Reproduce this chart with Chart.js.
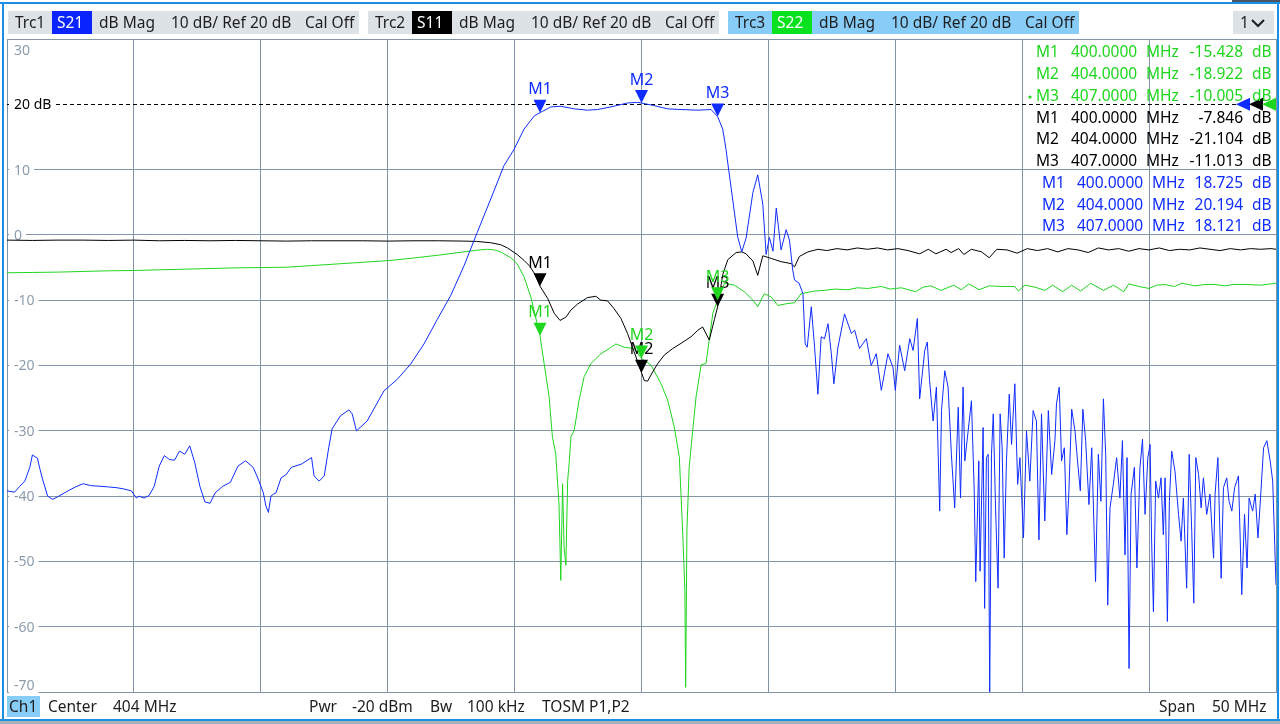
<!DOCTYPE html>
<html lang="en">
<head>
<meta charset="UTF-8" />
<title>Ch1 S21 / S11 / S22</title>
<script src="https://cdn.jsdelivr.net/npm/chart.js"></script>
<style>
    body {
        margin: 0;
        width: 1280px;
        height: 724px;
        overflow: hidden;
        background: #fff;
        font-family: 'Noto Sans', sans-serif;
        position: relative;
    }
    #plot { position: absolute; left: 0; top: 0; }
    .line { position: absolute; background: #1a8fe6; }
    .box { position: absolute; top: 11px; height: 23px; background: #dce2e6; }
    .t {
        position: absolute;
        top: 11px;
        line-height: 23px;
        font-size: 15.5px;
        color: #1e1e1e;
        white-space: nowrap;
    }
    .w { color: #fff; }
    .foot { top: 696px; line-height: 21px; }
</style>
</head>
<body>
    <canvas id="plot" width="1280" height="724"></canvas>

    <!-- frame -->
    <div class="line" style="left:0;top:2px;width:1280px;height:2px"></div>
    <div class="line" style="left:2px;top:2px;width:2px;height:719px"></div>
    <div class="line" style="left:1277px;top:2px;width:2px;height:719px"></div>
    <div class="line" style="left:0;top:719px;width:1280px;height:2px"></div>
    <div style="position:absolute;left:0;top:721px;width:1280px;height:3px;background:#a9b1b8"></div>
    <div style="position:absolute;left:1232px;top:0;width:48px;height:2px;background:#4a555f"></div>

    <!-- trace header -->
    <div class="box" style="left:8px;width:351px"></div>
    <div class="box" style="left:52px;width:40px;background:#0a24ff"></div>
    <span class="t" style="left:15px">Trc1</span>
    <span class="t w" style="left:57px">S21</span>
    <span class="t" style="left:99px">dB Mag</span>
    <span class="t" style="left:171px">10 dB/ Ref 20 dB</span>
    <span class="t" style="left:305px">Cal Off</span>

    <div class="box" style="left:368px;width:351px"></div>
    <div class="box" style="left:412px;width:40px;background:#000"></div>
    <span class="t" style="left:375px">Trc2</span>
    <span class="t w" style="left:417px">S11</span>
    <span class="t" style="left:459px">dB Mag</span>
    <span class="t" style="left:531px">10 dB/ Ref 20 dB</span>
    <span class="t" style="left:665px">Cal Off</span>

    <div class="box" style="left:728px;width:351px;background:#88ccf8"></div>
    <div class="box" style="left:772px;width:40px;background:#08e21e"></div>
    <span class="t" style="left:735px">Trc3</span>
    <span class="t w" style="left:777px">S22</span>
    <span class="t" style="left:819px">dB Mag</span>
    <span class="t" style="left:891px">10 dB/ Ref 20 dB</span>
    <span class="t" style="left:1025px">Cal Off</span>

    <div class="box" style="left:1233px;width:41px"></div>
    <span class="t" style="left:1240px">1</span>
    <svg style="position:absolute;left:1250px;top:17px" width="16" height="12">
        <polyline points="2,3 8,9 14,3" fill="none" stroke="#1e1e1e" stroke-width="2" />
    </svg>

    <!-- channel footer -->
    <div style="position:absolute;left:7px;top:696px;width:33px;height:21px;background:#88ccf8"></div>
    <span class="t foot" style="left:9px">Ch1</span>
    <span class="t foot" style="left:48px">Center</span>
    <span class="t foot" style="left:113px">404 MHz</span>
    <span class="t foot" style="left:309px">Pwr</span>
    <span class="t foot" style="left:352px">-20 dBm</span>
    <span class="t foot" style="left:430px">Bw</span>
    <span class="t foot" style="left:467px">100 kHz</span>
    <span class="t foot" style="left:542px">TOSM P1,P2</span>
    <span class="t foot" style="left:1159px">Span</span>
    <span class="t foot" style="left:1212px">50 MHz</span>

<script>
    // sweep: center 404 MHz, span 50 MHz, 10 dB/div, ref 20 dB
    const xGrid = [379, 384, 389, 394, 399, 404, 409, 414, 419, 424, 429];
    const refLevel = 20;

    const markerNames = ['M1', 'M2', 'M3'];
    const markerFreq = [400, 404, 407];
    const s21Marker = [18.725, 20.194, 18.121];
    const s11Marker = [-7.846, -21.104, -11.013];
    const s22Marker = [-15.428, -18.922, -10.005];

    // Trc1 S21 (blue)
    const s21Freq = [379.0, 379.3, 379.5, 379.7, 379.9, 380.0, 380.2, 380.3, 380.4, 380.6, 380.8, 381.0, 381.4, 381.7,
        382.0, 382.3, 382.7, 383.0, 383.3, 383.6, 383.9, 384.1, 384.2, 384.4, 384.6, 384.8, 385.0, 385.2, 385.4,
        385.6, 385.8, 386.0, 386.2, 386.4, 386.6, 386.8, 387.0, 387.2, 387.5, 387.8, 388.1, 388.4, 388.7, 388.9,
        389.1, 389.2, 389.3, 389.4, 389.5, 389.6, 389.8, 390.0, 390.2, 390.6, 391.0, 391.1, 391.3, 391.5, 391.68,
        391.81, 392.14, 392.47, 392.6, 392.77, 393.19, 393.85, 394.38, 394.9, 395.43, 395.96, 396.48, 397.01,
        397.53, 398.06, 398.58, 398.98, 399.37, 399.77, 400.0, 400.43, 400.82, 401.35, 401.87, 402.27, 402.79,
        403.45, 403.85, 404.0, 404.5, 405.03, 405.56, 406.22, 406.74, 407.0, 407.2, 407.33, 407.4, 407.6, 407.79,
        407.95, 408.12, 408.39, 408.58, 408.78, 408.91, 409.04, 409.18, 409.31, 409.5, 409.7, 409.83, 409.96,
        410.03, 410.21, 410.36, 410.45, 410.53, 410.69, 410.82, 410.95, 411.08, 411.21, 411.35, 411.48, 411.58,
        411.74, 412.0, 412.27, 412.4, 412.59, 412.86, 413.05, 413.25, 413.45, 413.71, 413.91, 414.0, 414.17,
        414.37, 414.57, 414.7, 414.87, 414.96, 415.16, 415.26, 415.35, 415.49, 415.62, 415.75, 415.82, 415.95,
        416.08, 416.21, 416.34, 416.48, 416.57, 416.67, 416.74, 416.87, 417.0, 417.11, 417.17, 417.29, 417.34,
        417.46, 417.52, 417.59, 417.66, 417.72, 417.79, 417.86, 417.95, 418.05, 418.13, 418.21, 418.29, 418.38,
        418.49, 418.58, 418.71, 418.82, 418.91, 419.05, 419.17, 419.3, 419.43, 419.56, 419.66, 419.76, 419.89,
        420.03, 420.16, 420.29, 420.35, 420.46, 420.55, 420.66, 420.76, 420.84, 420.95, 421.08, 421.18, 421.29,
        421.39, 421.5, 421.63, 421.74, 421.89, 422.0, 422.1, 422.2, 422.29, 422.37, 422.46, 422.59, 422.72,
        422.85, 422.95, 423.05, 423.13, 423.21, 423.29, 423.42, 423.52, 423.64, 423.74, 423.84, 423.95, 424.04,
        424.1, 424.17, 424.26, 424.37, 424.47, 424.56, 424.63, 424.72, 424.8, 424.89, 425.02, 425.16, 425.26,
        425.35, 425.48, 425.58, 425.68, 425.76, 425.84, 425.95, 426.05, 426.14, 426.27, 426.4, 426.54, 426.6,
        426.71, 426.84, 426.93, 427.06, 427.15, 427.26, 427.37, 427.52, 427.65, 427.76, 427.86, 427.94, 428.08,
        428.18, 428.29, 428.39, 428.51, 428.64, 428.77, 428.87, 428.95, 429.0];
    const s21Db = [-39.2, -39.4, -38.5, -37.7, -35.6, -33.7, -34.2, -35.9, -37.4, -40.0, -40.5, -40.1, -39.2, -38.6,
        -38.1, -38.4, -38.5, -38.6, -38.7, -38.9, -39.2, -40.3, -40.0, -40.3, -39.9, -38.5, -35.4, -33.8, -34.4,
        -34.5, -33.1, -33.6, -32.3, -34.9, -38.5, -40.9, -41.1, -39.5, -38.5, -37.9, -35.4, -34.6, -35.6, -37.4,
        -39.5, -41.5, -42.5, -40.0, -39.7, -39.5, -37.2, -36.7, -35.6, -35.1, -34.1, -36.9, -37.7, -36.9, -32.5,
        -29.7, -27.7, -26.8, -27.4, -30.0, -28.5, -23.9, -22.1, -19.8, -16.7, -12.9, -9.3, -4.7,
        0.4, 5.5, 10.6, 13.1, 16.2, 18.2, 18.725, 19.6, 19.7, 19.3, 19.1, 19.2, 19.6,
        20.2, 20.3, 20.194, 19.8, 19.3, 19.2, 19.1, 19.2, 18.121, 16.2, 13.1, 11.0, 5.2, -0.3,
        -2.6, -0.5, 6.5, 9.2, 4.7, -3.0, -0.4, -2.5, 4.1, -2.3, 0.8, -0.8, -5.4,
        -6.9, -7.4, -9.0, -16.7, -17.2, -11.0, -17.2, -24.4, -15.6, -15.9, -13.6, -18.2, -22.8,
        -17.2, -12.1, -15.1, -14.6, -17.4, -15.9, -20.0, -18.2, -23.8, -18.2, -20.3, -23.8, -16.9,
        -20.8, -15.9, -17.7, -12.8, -25.1, -17.7, -16.4, -22.3, -28.5, -23.3, -42.3, -26.9, -20.8,
        -23.3, -33.6, -41.8, -26.4, -40.3, -23.3, -34.6, -30.0, -25.4, -39.2, -53.1, -34.6, -51.5,
        -29.5, -57.2, -34.1, -33.6, -70.0, -33.6, -27.4, -41.8, -54.1, -27.4, -32.6, -49.5, -34.6,
        -24.4, -32.1, -22.8, -38.2, -34.1, -46.4, -30.0, -37.7, -26.9, -28.5, -46.7, -27.4, -43.8,
        -26.9, -36.7, -31.5, -25.9, -23.3, -34.6, -32.6, -45.9, -39.2, -26.7, -30.0, -34.6, -39.2,
        -26.7, -31.5, -41.3, -32.6, -53.1, -33.6, -40.8, -25.1, -33.6, -56.7, -41.8, -38.2, -34.1,
        -40.3, -31.5, -49.0, -34.1, -66.4, -39.7, -35.6, -51.0, -35.6, -31.3, -42.8, -34.1, -32.1,
        -46.9, -57.7, -37.7, -40.3, -37.2, -45.9, -37.2, -59.2, -40.8, -33.1, -36.2, -42.8, -46.9,
        -40.3, -54.1, -33.6, -45.4, -56.4, -34.1, -36.7, -41.8, -37.2, -42.8, -39.7, -49.5, -39.7,
        -34.1, -52.6, -38.7, -37.2, -40.8, -42.3, -38.7, -36.9, -55.1, -42.8, -51.0, -40.3, -42.3,
        -39.7, -46.4, -40.3, -32.6, -31.5, -34.6, -37.7, -47.4, -53.6];

    // Trc2 S11 (black)
    const s11Freq = [379.0, 380.0, 381.0, 382.0, 383.0, 384.0, 385.0, 386.0, 387.0, 388.0, 389.0, 390.0, 391.0,
        392.0, 393.0, 394.0, 395.0, 396.0, 397.0, 397.5, 398.06, 398.45, 398.72, 399.1, 399.37, 399.6, 399.8,
        400.0, 400.3, 400.56, 400.79, 401.02, 401.22, 401.48, 401.87, 402.2, 402.4, 402.66, 402.92, 403.19,
        403.45, 403.71, 404.0, 404.11, 404.24, 404.44, 404.64, 404.9, 405.23, 405.56, 405.95, 406.22, 406.41,
        406.67, 406.87, 407.0, 407.2, 407.4, 407.73, 407.95, 408.12, 408.39, 408.58, 408.78, 409.11, 409.5,
        409.9, 410.03, 410.22, 410.56, 410.95, 411.3, 411.7, 412.1, 412.5, 412.9, 413.3, 413.7, 414.1, 414.5,
        414.96, 415.3, 415.6, 416.0, 416.2, 416.5, 416.7, 417.0, 417.4, 417.7, 418.0, 418.4, 418.8, 419.2,
        419.6, 420.0, 420.4, 420.8, 421.2, 421.6, 422.0, 422.4, 422.8, 423.2, 423.6, 424.0, 424.4, 424.8,
        425.2, 425.6, 426.0, 426.4, 426.8, 427.2, 427.6, 428.0, 428.4, 428.8, 429.0];
    const s11Db = [-0.8, -0.85, -0.8, -0.8, -0.85, -0.8, -0.9, -0.85, -0.9, -0.85, -0.9, -0.95, -0.9,
        -0.9, -0.9, -0.95, -0.9, -0.9, -0.95, -1.0, -1.2, -1.5, -2.0, -3.0, -3.9, -4.8, -6.0,
        -7.846, -9.7, -12.0, -13.1, -12.6, -11.5, -10.6, -9.6, -9.4, -10.0, -10.1, -11.3, -12.8,
        -15.1, -17.9, -21.104, -22.3, -22.4, -21.0, -19.7, -18.4, -17.4, -16.6, -15.6, -14.6, -14.1,
        -16.1, -13.0, -11.013, -6.1, -3.8, -2.7, -2.6, -2.9, -4.0, -6.2, -3.2, -3.6, -4.1,
        -4.4, -4.9, -3.3, -2.6, -2.2, -2.4, -2.1, -2.3, -2.0, -2.2, -2.0, -2.3, -2.1, -2.4,
        -2.9, -2.2, -2.9, -2.2, -2.7, -2.1, -3.0, -2.2, -2.6, -3.5, -2.2, -2.3, -2.8, -2.1,
        -2.4, -2.1, -2.6, -2.1, -2.3, -2.7, -2.0, -2.3, -2.1, -2.5, -2.1, -2.3, -2.0, -2.4,
        -2.2, -2.3, -2.0, -2.2, -2.4, -2.1, -2.3, -2.1, -2.2, -2.1, -2.2];

    // Trc3 S22 (green)
    const s22Freq = [379.0, 380.0, 381.0, 382.0, 383.0, 384.0, 385.0, 386.0, 387.0, 388.0, 389.0, 390.0, 391.0,
        392.0, 393.0, 394.0, 395.0, 396.0, 397.0, 397.5, 397.93, 398.2, 398.45, 398.85, 399.1, 399.37, 399.64,
        400.0, 400.16, 400.36, 400.49, 400.62, 400.75, 400.82, 400.89, 400.95, 401.02, 401.09, 401.15, 401.22,
        401.35, 401.54, 401.74, 402.01, 402.4, 402.73, 402.99, 403.32, 403.71, 404.0, 404.37, 404.77, 405.03,
        405.29, 405.49, 405.62, 405.71, 405.74, 405.79, 405.88, 406.02, 406.15, 406.35, 406.54, 406.67, 406.81,
        407.0, 407.27, 407.66, 408.05, 408.39, 408.58, 408.84, 409.11, 409.37, 409.77, 410.03, 410.29, 410.82,
        411.2, 411.61, 412.13, 412.5, 412.92, 413.45, 413.8, 414.24, 414.8, 415.1, 415.4, 415.8, 416.3, 416.6,
        416.9, 417.3, 417.7, 418.2, 418.7, 418.85, 419.1, 419.5, 419.9, 420.2, 420.6, 420.95, 421.3, 421.7,
        422.2, 422.6, 423.0, 423.2, 423.6, 424.0, 424.3, 424.6, 425.0, 425.3, 425.8, 426.2, 426.6, 427.0,
        427.3, 427.9, 428.4, 429.0];
    const s22Db = [-5.8, -5.75, -5.7, -5.6, -5.5, -5.45, -5.35, -5.25, -5.15, -5.05, -5.0, -4.95, -4.7,
        -4.45, -4.2, -3.95, -3.55, -3.1, -2.6, -2.35, -2.2, -2.3, -2.6, -3.5, -4.4, -6.4, -9.5,
        -15.428, -19.6, -24.8, -30.9, -33.5, -41.2, -52.9, -38.1, -47.8, -50.6, -37.6, -35.0, -30.9,
        -29.9, -25.3, -21.7, -19.7, -18.2, -17.4, -16.7, -17.2, -17.4, -18.922, -19.9, -22.8, -25.3,
        -29.4, -34.0, -45.3, -54.5, -69.3, -45.3, -35.5, -29.9, -24.8, -19.9, -19.7, -16.1, -12.0,
        -10.005, -7.4, -7.7, -8.7, -10.0, -11.0, -9.0, -9.5, -10.8, -10.5, -10.4, -9.0, -8.6,
        -8.5, -8.3, -8.4, -8.1, -8.2, -7.9, -8.3, -8.1, -8.7, -8.0, -7.8, -8.5, -7.7, -8.4,
        -7.5, -8.4, -7.8, -7.9, -7.9, -8.6, -7.7, -8.0, -8.5, -7.7, -8.7, -7.7, -8.6, -7.4,
        -8.5, -7.7, -8.7, -7.5, -7.9, -8.2, -7.7, -7.6, -7.9, -7.4, -7.8, -7.6, -7.6, -7.8,
        -7.6, -7.6, -7.7, -7.4];

    const blue = '#0f2cff';
    const green = '#1ed61e';
    const gridColor = '#8394a6';

    function toPoints(freq, db) {
        return freq.map((f, i) => ({ x: f, y: db[i] }));
    }

    function drawMarker(ctx, px, py, color, name) {
        ctx.fillStyle = color;
        ctx.beginPath();
        ctx.moveTo(px - 6.5, py - 13);
        ctx.lineTo(px + 6.5, py - 13);
        ctx.lineTo(px, py);
        ctx.closePath();
        ctx.fill();
        ctx.font = '16px "Noto Sans"';
        ctx.textAlign = 'center';
        ctx.textBaseline = 'middle';
        ctx.fillText(name, px, py - 23);
    }

    const vnaOverlay = {
        id: 'vnaOverlay',
        beforeDatasetsDraw(chart) {
            const { ctx, chartArea: a, scales: { y } } = chart;
            ctx.save();
            // reference level line
            const ry = Math.round(y.getPixelForValue(refLevel)) + 0.5;
            ctx.strokeStyle = '#000';
            ctx.lineWidth = 1;
            ctx.setLineDash([4, 3]);
            ctx.beginPath();
            ctx.moveTo(a.left, ry);
            ctx.lineTo(a.right - 40, ry);
            ctx.stroke();
            ctx.setLineDash([]);

            // y tick labels inside the plot
            ctx.font = '14px "Noto Sans"';
            ctx.textBaseline = 'middle';
            ctx.textAlign = 'left';
            y.ticks.forEach(t => {
                let py = y.getPixelForValue(t.value);
                if (t.value === y.max) py += 11;
                if (t.value === y.min) py -= 7;
                const txt = t.value === refLevel ? refLevel + ' dB' : String(t.value);
                const w = ctx.measureText(txt).width;
                ctx.fillStyle = '#fff';
                ctx.fillRect(a.left + 2, py - 8, w + 9, 16);
                ctx.fillStyle = t.value === refLevel ? '#000' : '#8d9cad';
                ctx.fillText(txt, a.left + 7, py + 1);
            });
            ctx.restore();
        },
        afterDatasetsDraw(chart) {
            const { ctx, chartArea: a, scales: { x, y } } = chart;
            ctx.save();

            // markers on the traces
            const traces = [[s21Marker, blue], [s11Marker, '#000'], [s22Marker, green]];
            traces.forEach(([vals, color]) => {
                markerFreq.forEach((f, i) => {
                    drawMarker(ctx, x.getPixelForValue(f), y.getPixelForValue(vals[i]), color, markerNames[i]);
                });
            });

            // reference level arrows at the right edge
            const ry = y.getPixelForValue(refLevel);
            [[a.right - 40, blue], [a.right - 27, '#000'], [a.right - 14, green]].forEach(([tx, color]) => {
                ctx.fillStyle = color;
                ctx.beginPath();
                ctx.moveTo(tx, ry);
                ctx.lineTo(tx + 14, ry - 6.5);
                ctx.lineTo(tx + 14, ry + 6.5);
                ctx.closePath();
                ctx.fill();
            });

            // marker readout table
            ctx.font = '15.5px "Noto Sans"';
            ctx.textBaseline = 'middle';
            const groups = [[s22Marker, green, 0], [s11Marker, '#000', 0], [s21Marker, blue, 6]];
            let row = 0;
            groups.forEach(([vals, color, dx]) => {
                vals.forEach((v, i) => {
                    const ty = 53 + row * 21.75;
                    ctx.fillStyle = color;
                    ctx.textAlign = 'left';
                    ctx.fillText(markerNames[i], 1036 + dx, ty);
                    ctx.fillText(markerFreq[i].toFixed(4), 1071 + dx, ty);
                    ctx.fillText('MHz', 1146 + dx, ty);
                    ctx.fillText('dB', 1252, ty);
                    ctx.textAlign = 'right';
                    ctx.fillText(v.toFixed(3), 1243, ty);
                    row++;
                });
            });
            // active marker dot
            ctx.fillStyle = green;
            ctx.beginPath();
            ctx.arc(1030, 97, 1.6, 0, Math.PI * 2);
            ctx.fill();
            ctx.restore();
        }
    };

    const lineSet = (label, freq, db, color) => ({
        label: label,
        data: toPoints(freq, db),
        borderColor: color,
        borderWidth: 1,
        pointRadius: 0,
        tension: 0,
        fill: false
    });

    new Chart(document.getElementById('plot'), {
        type: 'line',
        data: {
            datasets: [
                lineSet('S21', s21Freq, s21Db, blue),
                lineSet('S11', s11Freq, s11Db, '#000'),
                lineSet('S22', s22Freq, s22Db, green)
            ]
        },
        options: {
            responsive: false,
            devicePixelRatio: 1,
            animation: false,
            layout: { padding: { left: 7, right: 4, top: 39, bottom: 32 } },
            plugins: { legend: { display: false }, tooltip: { enabled: false } },
            scales: {
                x: {
                    type: 'linear',
                    min: 379,
                    max: 429,
                    afterBuildTicks: scale => { scale.ticks = xGrid.map(v => ({ value: v })); },
                    ticks: { display: false },
                    grid: { color: gridColor, drawTicks: false },
                    border: { color: gridColor }
                },
                y: {
                    min: -70,
                    max: 30,
                    ticks: { display: false, stepSize: 10 },
                    grid: {
                        color: ctx => ctx.tick && ctx.tick.value === refLevel ? 'rgba(0,0,0,0)' : gridColor,
                        drawTicks: false
                    },
                    border: { color: gridColor }
                }
            }
        },
        plugins: [vnaOverlay]
    });
</script>
</body>
</html>
